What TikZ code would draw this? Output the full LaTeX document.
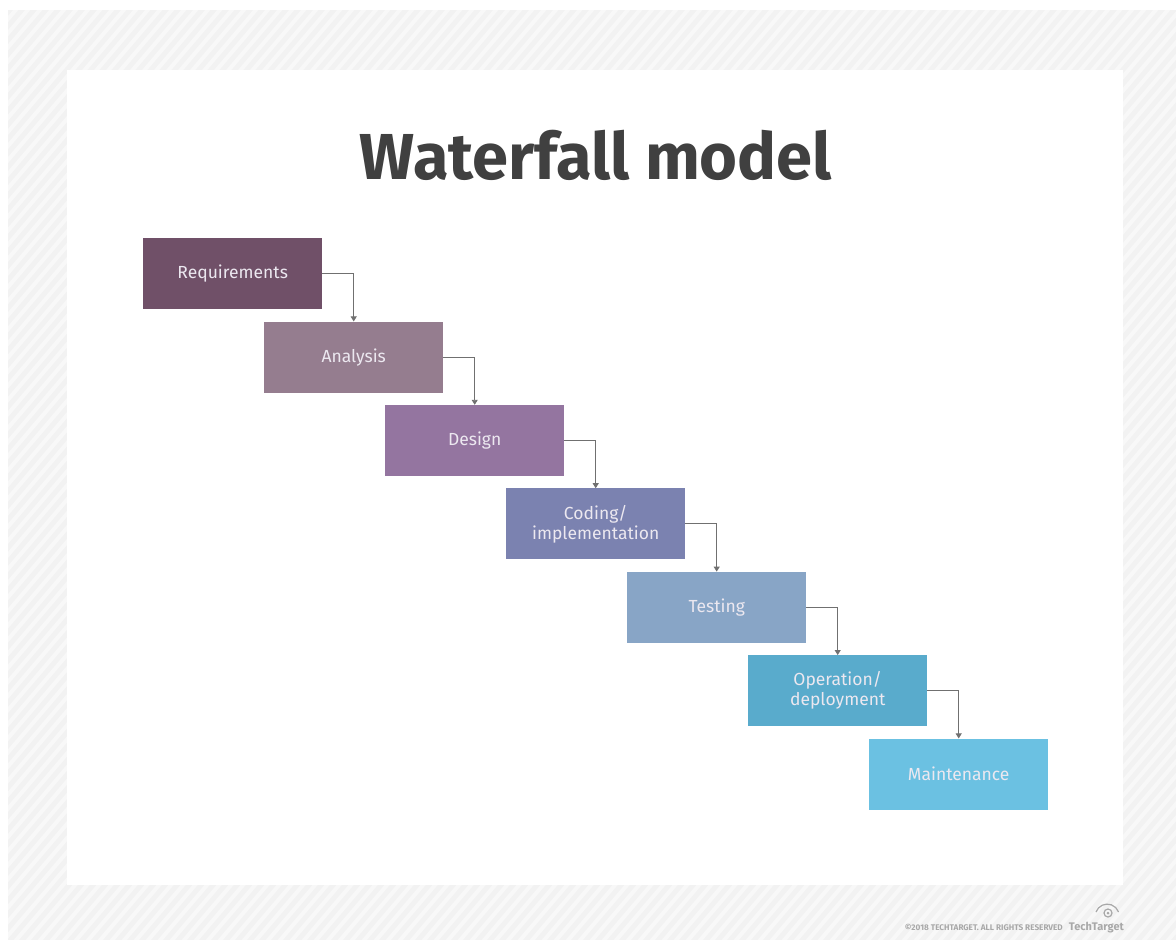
\documentclass[tikz,border=0pt]{standalone}
\usepackage{fontspec}
\setmainfont{Fira Sans}
\usetikzlibrary{arrows.meta}
\definecolor{bggray}{HTML}{F2F2F2}
\definecolor{stripecol}{HTML}{F8F8F8}
\definecolor{titlecol}{HTML}{404040}
\definecolor{c1}{HTML}{705068}
\definecolor{c2}{HTML}{957D8F}
\definecolor{c3}{HTML}{9475A0}
\definecolor{c4}{HTML}{7B82B0}
\definecolor{c5}{HTML}{88A5C6}
\definecolor{c6}{HTML}{59ABCC}
\definecolor{c7}{HTML}{6BC1E2}
\definecolor{txtcol}{HTML}{ECE8F0}
\definecolor{arrcol}{HTML}{707070}
\definecolor{logocol}{HTML}{A8A8A8}
\tikzset{
  phase/.style={fill=#1, draw=none, minimum width=179pt, minimum height=71pt,
    inner sep=0pt, anchor=north west, text=txtcol, align=center,
    font=\fontsize{17.5}{20}\selectfont},
  flow/.style={draw=arrcol, line width=0.9pt, -{Triangle[length=5pt,width=6pt]}},
  stripe/.style={draw=stripecol, line width=4pt}
}
\begin{document}
\begin{tikzpicture}[x=1pt,y=-1pt]
\useasboundingbox (0,0) rectangle (1176,940);
\fill[white] (0,0) rectangle (1176,940);
\fill[bggray] (8,10) rectangle (1176,940);
\begin{scope}
  \clip (8,10) rectangle (1176,940);
  \foreach \x in {-960,-948,...,1180} \draw[stripe] (\x,945) -- (\x+800,5);
\end{scope}
\fill[white] (67,70) rectangle (1123,885);

\node[anchor=base, text=titlecol, font=\fontsize{65}{75}\selectfont\bfseries] (title) at (596,179) {Waterfall model};

\node[phase=c1] (req) at (143,238) {Requirements};
\node[phase=c2] (ana) at (264,321.4) {Analysis};
\node[phase=c3] (des) at (385,404.8) {Design};
\node[phase=c4] (cod) at (506,488.2) {Coding/\\implementation};
\node[phase=c5] (tes) at (627,571.6) {Testing};
\node[phase=c6] (ope) at (748,655) {Operation/\\deployment};
\node[phase=c7] (mai) at (869,738.4) {Maintenance};

\draw[flow] (req.east) -| (ana.north);
\draw[flow] (ana.east) -| (des.north);
\draw[flow] (des.east) -| (cod.north);
\draw[flow] (cod.east) -| (tes.north);
\draw[flow] (tes.east) -| (ope.north);
\draw[flow] (ope.east) -| (mai.north);

\node[anchor=base east, text=logocol, font=\fontsize{8.2}{9}\selectfont\bfseries, inner sep=0pt] (copy) at (1063,930) {©2018 TECHTARGET. ALL RIGHTS RESERVED};
\node[anchor=base east, text=logocol, font=\fontsize{11}{13}\selectfont\bfseries, inner sep=0pt] (logo) at (1124,930) {TechTarget};
\draw[logocol, line width=1.2pt] (1096,912) arc[start angle=160, end angle=20, radius=12pt];
\draw[logocol, line width=1.2pt] (1108,913) circle[radius=4pt];
\fill[logocol] (1108,913) circle[radius=1.5pt];
\end{tikzpicture}
\end{document}
